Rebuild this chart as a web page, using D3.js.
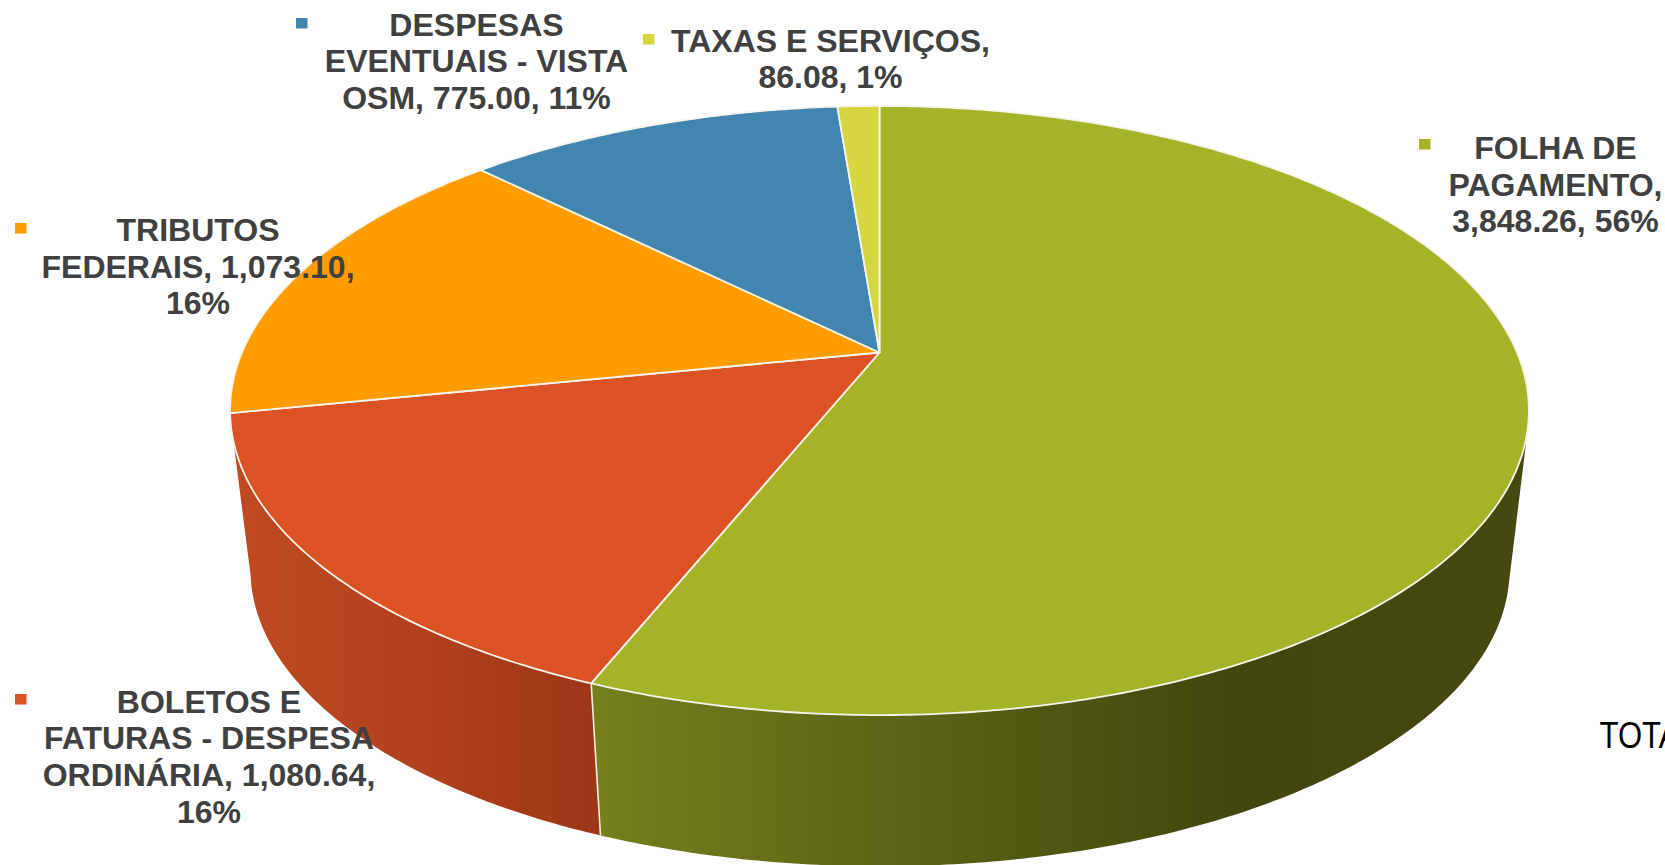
<!DOCTYPE html>
<html>
<head>
<meta charset="utf-8">
<script src="https://cdn.jsdelivr.net/npm/d3@7"></script>
<style>
html,body{margin:0;padding:0;background:#fff;overflow:hidden}
svg{display:block}
</style>
</head>
<body>
<svg id="chart" width="1665" height="865"></svg>
<script>
const categories = ["FOLHA DE PAGAMENTO","BOLETOS E FATURAS - DESPESA ORDINÁRIA","TRIBUTOS FEDERAIS","DESPESAS EVENTUAIS - VISTA OSM","TAXAS E SERVIÇOS"];
const values = [3848.26,1080.64,1073.10,775.00,86.08];
const colors = ["#A4B327","#DB5225","#FF9C00","#4185B0","#D6D641"];
const labelLines = [
  ["FOLHA DE","PAGAMENTO,","3,848.26, 56%"],
  ["BOLETOS E","FATURAS - DESPESA","ORDINÁRIA, 1,080.64,","16%"],
  ["TRIBUTOS","FEDERAIS, 1,073.10,","16%"],
  ["DESPESAS","EVENTUAIS - VISTA","OSM, 775.00, 11%"],
  ["TAXAS E SERVIÇOS,","86.08, 1%"]
];
const labelCenterX = [1555.5,209,198,476.5,830.5];
const labelBaseY = [159,712.5,241,35.5,52];
const labelGap = [36.5,36.7,36.5,36.5,36];
const markerXY = [[1419,139],[15,694],[15,223],[296,18],[643,34]];
const wallStops = {
  0:[[600,"#757F1C"],[880,"#5E6516"],[1100,"#4C5210"],[1230,"#42460E"],[1520,"#45490F"]],
  1:[[240,"#BF4A20"],[440,"#B03F1C"],[600,"#9B3617"]]
};

const svg = d3.select("#chart");
const TAU = 2*Math.PI;
const topDisc = {cx:879.5,cy:352.5,A:637.5,B:293.5,k:0.1905};
const botDisc = {cx:880,cy:513,A:618,B:286,k:0.1905};
const project = (d,a)=>{
  const u=Math.sin(a), v=Math.cos(a), w=1+d.k*v;
  return [d.cx+d.A*u/w, d.cy-d.B*v/w];
};
const arcs = d3.pie().sort(null).value(d=>d)(values);
const line = d3.line();
const samples = (a0,a1)=>{
  const n=Math.max(2,Math.ceil((a1-a0)/0.01));
  return d3.range(n+1).map(i=>a0+(a1-a0)*i/n);
};

const defs = svg.append("defs");
Object.keys(wallStops).forEach(i=>{
  const st=wallStops[i];
  const g=defs.append("linearGradient").attr("id","wall"+i)
    .attr("gradientUnits","userSpaceOnUse")
    .attr("x1",st[0][0]).attr("x2",st[st.length-1][0]).attr("y1",0).attr("y2",0);
  const sx=d3.scaleLinear().domain([st[0][0],st[st.length-1][0]]).range([0,1]);
  st.forEach(s=>g.append("stop").attr("offset",sx(s[0])).attr("stop-color",s[1]));
});

// side wall (visible front arc only)
const visMin=104/360*TAU, visMax=258/360*TAU;
arcs.forEach((s,i)=>{
  const a0=Math.max(s.startAngle,visMin), a1=Math.min(s.endAngle,visMax);
  if(a1<=a0) return;
  const as=samples(a0,a1);
  const pts=as.map(a=>project(topDisc,a)).concat(as.slice().reverse().map(a=>project(botDisc,a)));
  svg.append("path").attr("d",line(pts)+"Z").attr("fill","url(#wall"+i+")");
});
// white divider on wall
{
  const a=arcs[0].endAngle;
  svg.append("path").attr("d",line([project(topDisc,a),project(botDisc,a)]))
    .attr("stroke","#F2EFE6").attr("stroke-width",1.6).attr("fill","none");
}
// top faces
arcs.forEach((s,i)=>{
  const pts=[[topDisc.cx,topDisc.cy]].concat(samples(s.startAngle,s.endAngle).map(a=>project(topDisc,a)));
  svg.append("path").attr("d",line(pts)+"Z")
    .attr("fill",colors[i]).attr("stroke","#F6F4EC").attr("stroke-width",1.8).attr("stroke-linejoin","round");
});

// labels
const g=svg.append("g").attr("font-family","'Liberation Sans',Arial,sans-serif")
  .attr("font-weight",700).attr("font-size",32).attr("fill","#404040");
labelLines.forEach((ls,i)=>{
  ls.forEach((t,j)=>{
    g.append("text").attr("x",labelCenterX[i]).attr("y",labelBaseY[i]+j*labelGap[i])
      .attr("text-anchor","middle").text(t);
  });
  svg.append("rect").attr("x",markerXY[i][0]).attr("y",markerXY[i][1])
    .attr("width",11.5).attr("height",10.5).attr("fill",colors[i]);
});

svg.append("text").attr("transform","translate(1599.5,748) scale(0.84,1)")
  .attr("font-family","'Liberation Sans',Arial,sans-serif").attr("font-size",37).attr("fill","#000")
  .text("TOTAL");
</script>
</body>
</html>
